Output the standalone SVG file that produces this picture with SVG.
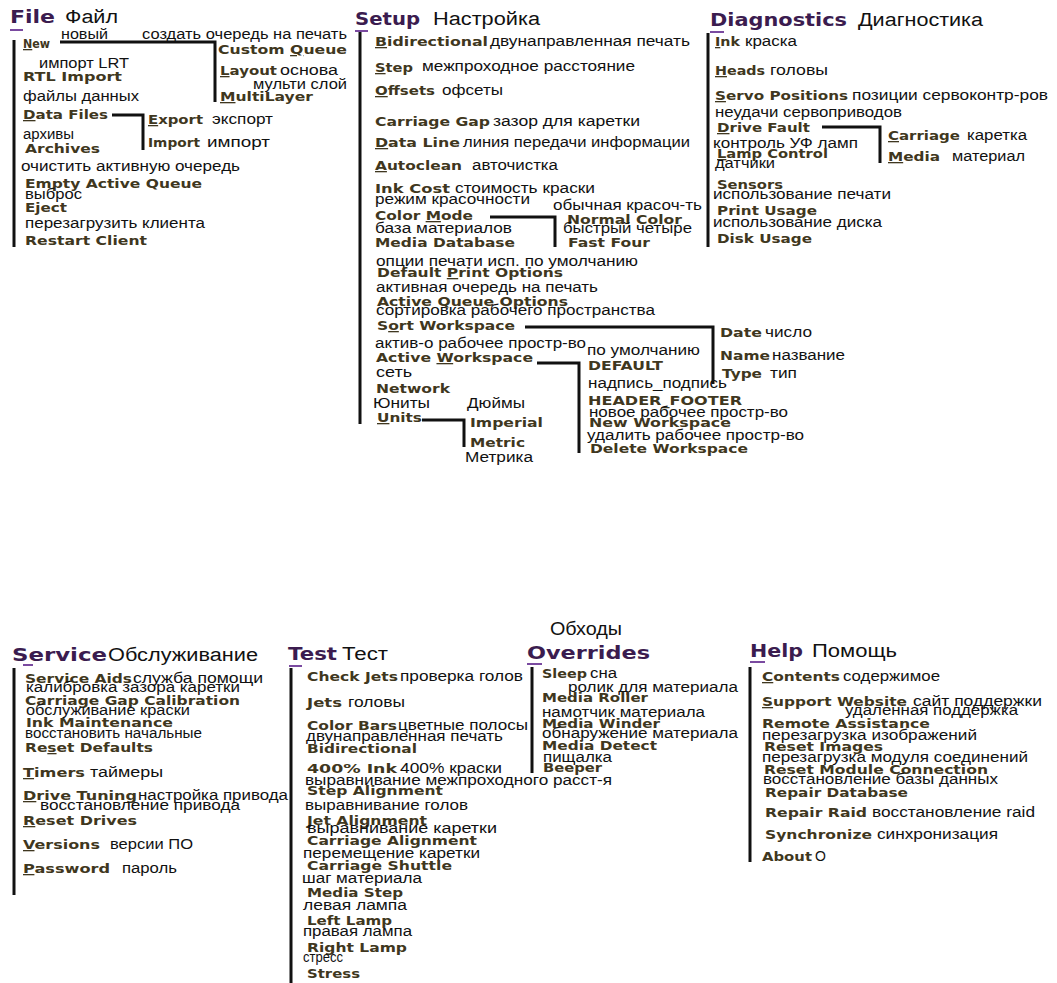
<svg xmlns="http://www.w3.org/2000/svg" width="1057" height="983" viewBox="0 0 1057 983">
<style>
.h{font-family:"DejaVu Sans",Verdana,sans-serif;font-weight:bold;font-size:18px;fill:#3b1c4f}
.hr{font-family:"Liberation Sans",Arial,sans-serif;font-size:18px;fill:#111}
.e{font-family:"DejaVu Sans",Verdana,sans-serif;font-weight:bold;font-size:13px;fill:#3f3720}
.r{font-family:"Liberation Sans",Arial,sans-serif;font-size:14px;fill:#111}
.u{text-decoration:underline}
.bar{stroke:#111;stroke-width:3;fill:none}
.ul{stroke:#7a4aa0;stroke-width:2}
</style>
<rect width="1057" height="983" fill="#fff"/>
<g id="connectors">
<line class="bar" x1="14" y1="40" x2="14" y2="247"/>
<polyline class="bar" points="60,42 215,42 215,102"/>
<polyline class="bar" points="112,115 143,115 143,150"/>
<line class="bar" x1="360" y1="30" x2="360" y2="424"/>
<polyline class="bar" points="490,217 555,217 555,247"/>
<polyline class="bar" points="525,327 713,327 713,384"/>
<polyline class="bar" points="537,363 579,363 579,453"/>
<polyline class="bar" points="422,420 464,420 464,447"/>
<line class="bar" x1="708" y1="33" x2="708" y2="247"/>
<polyline class="bar" points="822,127 880,127 880,163"/>
<line class="bar" x1="14" y1="668" x2="14" y2="895"/>
<line class="bar" x1="291" y1="668" x2="291" y2="983"/>
<line class="bar" x1="532" y1="667" x2="532" y2="773"/>
<line class="bar" x1="750" y1="667" x2="750" y2="862"/>
</g>
<g id="hdr-file"><text class="h" x="10" y="23" textLength="45" lengthAdjust="spacingAndGlyphs">File</text><text class="hr" x="65" y="23" textLength="53" lengthAdjust="spacingAndGlyphs">Файл</text><line class="ul" x1="10" y1="30" x2="23" y2="30"/></g>
<g id="file-new"><text class="e" x="23" y="48" textLength="27" lengthAdjust="spacingAndGlyphs"><tspan class="u">N</tspan>ew</text><text class="r" x="61" y="39" textLength="47" lengthAdjust="spacingAndGlyphs">новый</text></g>
<g id="file-custom-queue"><text class="r" x="142" y="39" textLength="205" lengthAdjust="spacingAndGlyphs">создать очередь на печать</text><text class="e" x="218" y="54" textLength="129" lengthAdjust="spacingAndGlyphs">Custom <tspan class="u">Q</tspan>ueue</text></g>
<g id="file-layout"><text class="e" x="220" y="75" textLength="57" lengthAdjust="spacingAndGlyphs"><tspan class="u">L</tspan>ayout</text><text class="r" x="280" y="75" textLength="58" lengthAdjust="spacingAndGlyphs">основа</text></g>
<g id="file-multilayer"><text class="r" x="253" y="89" textLength="94" lengthAdjust="spacingAndGlyphs">мульти слой</text><text class="e" x="220" y="101" textLength="93" lengthAdjust="spacingAndGlyphs"><tspan class="u">M</tspan>ultiLayer</text></g>
<g id="file-rtl"><text class="r" x="39" y="68" textLength="90" lengthAdjust="spacingAndGlyphs">импорт LRT</text><text class="e" x="23" y="81" textLength="99" lengthAdjust="spacingAndGlyphs">RTL Import</text></g>
<g id="file-data"><text class="r" x="23" y="101" textLength="116" lengthAdjust="spacingAndGlyphs">файлы данных</text><text class="e" x="23" y="119" textLength="85" lengthAdjust="spacingAndGlyphs"><tspan class="u">D</tspan>ata Files</text></g>
<g id="file-export"><text class="e" x="148" y="124" textLength="55" lengthAdjust="spacingAndGlyphs"><tspan class="u">E</tspan>xport</text><text class="r" x="212" y="124" textLength="61" lengthAdjust="spacingAndGlyphs">экспорт</text></g>
<g id="file-import"><text class="e" x="148" y="147" textLength="52" lengthAdjust="spacingAndGlyphs">Import</text><text class="r" x="207" y="147" textLength="63" lengthAdjust="spacingAndGlyphs">импорт</text></g>
<g id="file-archives"><text class="r" x="23" y="139" textLength="51" lengthAdjust="spacingAndGlyphs">архивы</text><text class="e" x="25" y="153" textLength="75" lengthAdjust="spacingAndGlyphs">Archives</text></g>
<g id="file-empty"><text class="r" x="21" y="171" textLength="219" lengthAdjust="spacingAndGlyphs">очистить активную очередь</text><text class="e" x="25" y="188" textLength="177" lengthAdjust="spacingAndGlyphs">Empty Active Queue</text></g>
<g id="file-eject"><text class="r" x="25" y="199" textLength="57" lengthAdjust="spacingAndGlyphs">выброс</text><text class="e" x="25" y="212" textLength="42" lengthAdjust="spacingAndGlyphs">Eject</text></g>
<g id="file-restart"><text class="r" x="25" y="228" textLength="180" lengthAdjust="spacingAndGlyphs">перезагрузить клиента</text><text class="e" x="25" y="245" textLength="122" lengthAdjust="spacingAndGlyphs">Restart Client</text></g>

<g id="hdr-setup"><text class="h" x="355" y="25" textLength="65" lengthAdjust="spacingAndGlyphs">Setup</text><text class="hr" x="433" y="25" textLength="107" lengthAdjust="spacingAndGlyphs">Настройка</text><line class="ul" x1="355" y1="31" x2="368" y2="31"/></g>
<g id="setup-bidir"><text class="e" x="375" y="46" textLength="113" lengthAdjust="spacingAndGlyphs"><tspan class="u">B</tspan>idirectional</text><text class="r" x="490" y="46" textLength="200" lengthAdjust="spacingAndGlyphs">двунаправленная печать</text></g>
<g id="setup-step"><text class="e" x="375" y="72" textLength="38" lengthAdjust="spacingAndGlyphs"><tspan class="u">S</tspan>tep</text><text class="r" x="422" y="71" textLength="213" lengthAdjust="spacingAndGlyphs">межпроходное расстояние</text></g>
<g id="setup-offsets"><text class="e" x="375" y="95" textLength="60" lengthAdjust="spacingAndGlyphs"><tspan class="u">O</tspan>ffsets</text><text class="r" x="442" y="95" textLength="61" lengthAdjust="spacingAndGlyphs">офсеты</text></g>
<g id="setup-cgap"><text class="e" x="375" y="126" textLength="115" lengthAdjust="spacingAndGlyphs">Carriage Gap</text><text class="r" x="493" y="126" textLength="147" lengthAdjust="spacingAndGlyphs">зазор для каретки</text></g>
<g id="setup-dataline"><text class="e" x="375" y="147" textLength="85" lengthAdjust="spacingAndGlyphs"><tspan class="u">D</tspan>ata Line</text><text class="r" x="463" y="147" textLength="227" lengthAdjust="spacingAndGlyphs">линия передачи информации</text></g>
<g id="setup-autoclean"><text class="e" x="375" y="170" textLength="87" lengthAdjust="spacingAndGlyphs"><tspan class="u">A</tspan>utoclean</text><text class="r" x="472" y="170" textLength="86" lengthAdjust="spacingAndGlyphs">авточистка</text></g>
<g id="setup-inkcost"><text class="e" x="375" y="193" textLength="75" lengthAdjust="spacingAndGlyphs">Ink Cost</text><text class="r" x="455" y="193" textLength="140" lengthAdjust="spacingAndGlyphs">стоимость краски</text></g>
<g id="setup-colormode"><text class="r" x="375" y="204" textLength="155" lengthAdjust="spacingAndGlyphs">режим красочности</text><text class="e" x="375" y="220" textLength="98" lengthAdjust="spacingAndGlyphs">Color <tspan class="u">M</tspan>ode</text></g>
<g id="setup-normal"><text class="r" x="553" y="210" textLength="149" lengthAdjust="spacingAndGlyphs">обычная красоч-ть</text><text class="e" x="567" y="224" textLength="115" lengthAdjust="spacingAndGlyphs">Normal Color</text></g>
<g id="setup-mediadb"><text class="r" x="375" y="233" textLength="137" lengthAdjust="spacingAndGlyphs">база материалов</text><text class="e" x="375" y="247" textLength="140" lengthAdjust="spacingAndGlyphs">Media Database</text></g>
<g id="setup-fastfour"><text class="r" x="563" y="233" textLength="129" lengthAdjust="spacingAndGlyphs">быстрый четыре</text><text class="e" x="568" y="247" textLength="82" lengthAdjust="spacingAndGlyphs">Fast Four</text></g>
<g id="setup-defprint"><text class="r" x="376" y="266" textLength="262" lengthAdjust="spacingAndGlyphs">опции печати исп. по умолчанию</text><text class="e" x="377" y="277" textLength="186" lengthAdjust="spacingAndGlyphs">Default <tspan class="u">P</tspan>rint Options</text></g>
<g id="setup-aqo"><text class="r" x="376" y="292" textLength="222" lengthAdjust="spacingAndGlyphs">активная очередь на печать</text><text class="e" x="377" y="306" textLength="191" lengthAdjust="spacingAndGlyphs">Active Queue Options</text></g>
<g id="setup-sort"><text class="r" x="376" y="315" textLength="279" lengthAdjust="spacingAndGlyphs">сортировка рабочего пространства</text><text class="e" x="377" y="330" textLength="138" lengthAdjust="spacingAndGlyphs">S<tspan class="u">o</tspan>rt Workspace</text></g>
<g id="setup-date"><text class="e" x="720" y="337" textLength="42" lengthAdjust="spacingAndGlyphs">Date</text><text class="r" x="765" y="337" textLength="47" lengthAdjust="spacingAndGlyphs">число</text></g>
<g id="setup-name"><text class="e" x="720" y="360" textLength="50" lengthAdjust="spacingAndGlyphs">Name</text><text class="r" x="772" y="360" textLength="73" lengthAdjust="spacingAndGlyphs">название</text></g>
<g id="setup-type"><text class="e" x="722" y="378" textLength="40" lengthAdjust="spacingAndGlyphs">Type</text><text class="r" x="770" y="378" textLength="27" lengthAdjust="spacingAndGlyphs">тип</text></g>
<g id="setup-activews"><text class="r" x="375" y="348" textLength="211" lengthAdjust="spacingAndGlyphs">актив-о рабочее простр-во</text><text class="e" x="376" y="362" textLength="157" lengthAdjust="spacingAndGlyphs">Active <tspan class="u">W</tspan>orkspace</text></g>
<g id="setup-default"><text class="r" x="587" y="355" textLength="113" lengthAdjust="spacingAndGlyphs">по умолчанию</text><text class="e" x="588" y="370" textLength="75" lengthAdjust="spacingAndGlyphs">DEFAULT</text></g>
<g id="setup-network"><text class="r" x="376" y="377" textLength="36" lengthAdjust="spacingAndGlyphs">сеть</text><text class="e" x="376" y="393" textLength="74" lengthAdjust="spacingAndGlyphs">Network</text></g>
<g id="setup-header"><text class="r" x="588" y="388" textLength="139" lengthAdjust="spacingAndGlyphs">надпись_подпись</text><text class="e" x="588" y="405" textLength="154" lengthAdjust="spacingAndGlyphs">HEADER_FOOTER</text></g>
<g id="setup-units"><text class="r" x="373" y="408" textLength="57" lengthAdjust="spacingAndGlyphs">Юниты</text><text class="e" x="377" y="422" textLength="45" lengthAdjust="spacingAndGlyphs"><tspan class="u">U</tspan>nits</text></g>
<g id="setup-imperial"><text class="r" x="467" y="408" textLength="58" lengthAdjust="spacingAndGlyphs">Дюймы</text><text class="e" x="470" y="427" textLength="73" lengthAdjust="spacingAndGlyphs">Imperial</text></g>
<g id="setup-metric"><text class="e" x="470" y="447" textLength="55" lengthAdjust="spacingAndGlyphs">Metric</text><text class="r" x="465" y="462" textLength="68" lengthAdjust="spacingAndGlyphs">Метрика</text></g>
<g id="setup-newws"><text class="r" x="589" y="417" textLength="199" lengthAdjust="spacingAndGlyphs">новое рабочее простр-во</text><text class="e" x="589" y="427" textLength="142" lengthAdjust="spacingAndGlyphs">New Workspace</text></g>
<g id="setup-delws"><text class="r" x="587" y="440" textLength="217" lengthAdjust="spacingAndGlyphs">удалить рабочее простр-во</text><text class="e" x="590" y="453" textLength="158" lengthAdjust="spacingAndGlyphs">Delete Workspace</text></g>

<g id="hdr-diag"><text class="h" x="710" y="26" textLength="137" lengthAdjust="spacingAndGlyphs">Diagnostics</text><text class="hr" x="858" y="26" textLength="125" lengthAdjust="spacingAndGlyphs">Диагностика</text><line class="ul" x1="710" y1="32" x2="724" y2="32"/></g>
<g id="diag-ink"><text class="e" x="715" y="46" textLength="25" lengthAdjust="spacingAndGlyphs"><tspan class="u">I</tspan>nk</text><text class="r" x="745" y="46" textLength="52" lengthAdjust="spacingAndGlyphs">краска</text></g>
<g id="diag-heads"><text class="e" x="715" y="75" textLength="50" lengthAdjust="spacingAndGlyphs"><tspan class="u">H</tspan>eads</text><text class="r" x="770" y="75" textLength="58" lengthAdjust="spacingAndGlyphs">головы</text></g>
<g id="diag-servo"><text class="e" x="715" y="100" textLength="133" lengthAdjust="spacingAndGlyphs"><tspan class="u">S</tspan>ervo Positions</text><text class="r" x="852" y="100" textLength="196" lengthAdjust="spacingAndGlyphs">позиции сервоконтр-ров</text></g>
<g id="diag-drive"><text class="r" x="715" y="117" textLength="187" lengthAdjust="spacingAndGlyphs">неудачи сервоприводов</text><text class="e" x="717" y="132" textLength="93" lengthAdjust="spacingAndGlyphs"><tspan class="u">D</tspan>rive Fault</text></g>
<g id="diag-carriage"><text class="e" x="888" y="140" textLength="72" lengthAdjust="spacingAndGlyphs"><tspan class="u">C</tspan>arriage</text><text class="r" x="967" y="140" textLength="60" lengthAdjust="spacingAndGlyphs">каретка</text></g>
<g id="diag-media"><text class="e" x="888" y="161" textLength="52" lengthAdjust="spacingAndGlyphs"><tspan class="u">M</tspan>edia</text><text class="r" x="952" y="161" textLength="73" lengthAdjust="spacingAndGlyphs">материал</text></g>
<g id="diag-lamp"><text class="r" x="713" y="148" textLength="145" lengthAdjust="spacingAndGlyphs">контроль УФ ламп</text><text class="e" x="717" y="158" textLength="111" lengthAdjust="spacingAndGlyphs"><tspan class="u">L</tspan>amp Control</text></g>
<g id="diag-sensors"><text class="r" x="715" y="168" textLength="60" lengthAdjust="spacingAndGlyphs">датчики</text><text class="e" x="717" y="189" textLength="66" lengthAdjust="spacingAndGlyphs">Sensors</text></g>
<g id="diag-print"><text class="r" x="713" y="199" textLength="178" lengthAdjust="spacingAndGlyphs">использование печати</text><text class="e" x="717" y="215" textLength="100" lengthAdjust="spacingAndGlyphs">Print Usage</text></g>
<g id="diag-disk"><text class="r" x="713" y="227" textLength="169" lengthAdjust="spacingAndGlyphs">использование диска</text><text class="e" x="717" y="243" textLength="95" lengthAdjust="spacingAndGlyphs">Disk Usage</text></g>

<g id="hdr-service"><text class="h" x="12" y="661" textLength="95" lengthAdjust="spacingAndGlyphs">Service</text><text class="hr" x="108" y="661" textLength="150" lengthAdjust="spacingAndGlyphs">Обслуживание</text><line class="ul" x1="23" y1="665" x2="33" y2="665"/></g>
<g id="svc-aids"><text class="e" x="25" y="683" textLength="107" lengthAdjust="spacingAndGlyphs">Service Aids</text><text class="r" x="133" y="683" textLength="130" lengthAdjust="spacingAndGlyphs">служба помощи</text></g>
<g id="svc-cgc"><text class="r" x="26" y="692" textLength="214" lengthAdjust="spacingAndGlyphs">калибровка зазора каретки</text><text class="e" x="25" y="705" textLength="215" lengthAdjust="spacingAndGlyphs">Carriage Gap Calibration</text></g>
<g id="svc-inkm"><text class="r" x="26" y="715" textLength="164" lengthAdjust="spacingAndGlyphs">обслуживание краски</text><text class="e" x="26" y="727" textLength="147" lengthAdjust="spacingAndGlyphs">Ink Maintenance</text></g>
<g id="svc-reset"><text class="r" x="25" y="738" textLength="177" lengthAdjust="spacingAndGlyphs">восстановить начальные</text><text class="e" x="25" y="752" textLength="128" lengthAdjust="spacingAndGlyphs">Re<tspan class="u">s</tspan>et Defaults</text></g>
<g id="svc-timers"><text class="e" x="23" y="777" textLength="62" lengthAdjust="spacingAndGlyphs"><tspan class="u">T</tspan>imers</text><text class="r" x="90" y="777" textLength="73" lengthAdjust="spacingAndGlyphs">таймеры</text></g>
<g id="svc-tuning"><text class="e" x="23" y="800" textLength="114" lengthAdjust="spacingAndGlyphs"><tspan class="u">D</tspan>rive Tuning</text><text class="r" x="138" y="800" textLength="150" lengthAdjust="spacingAndGlyphs">настройка привода</text></g>
<g id="svc-drives"><text class="r" x="40" y="810" textLength="200" lengthAdjust="spacingAndGlyphs">восстановление привода</text><text class="e" x="23" y="825" textLength="114" lengthAdjust="spacingAndGlyphs"><tspan class="u">R</tspan>eset Drives</text></g>
<g id="svc-versions"><text class="e" x="23" y="849" textLength="77" lengthAdjust="spacingAndGlyphs"><tspan class="u">V</tspan>ersions</text><text class="r" x="110" y="849" textLength="83" lengthAdjust="spacingAndGlyphs">версии ПО</text></g>
<g id="svc-password"><text class="e" x="23" y="873" textLength="87" lengthAdjust="spacingAndGlyphs"><tspan class="u">P</tspan>assword</text><text class="r" x="122" y="873" textLength="55" lengthAdjust="spacingAndGlyphs">пароль</text></g>

<g id="hdr-test"><text class="h" x="288" y="660" textLength="49" lengthAdjust="spacingAndGlyphs">Test</text><text class="hr" x="342" y="660" textLength="46" lengthAdjust="spacingAndGlyphs">Тест</text><line class="ul" x1="289" y1="666" x2="302" y2="666"/></g>
<g id="test-checkjets"><text class="e" x="307" y="681" textLength="91" lengthAdjust="spacingAndGlyphs">Check Jets</text><text class="r" x="400" y="681" textLength="123" lengthAdjust="spacingAndGlyphs">проверка голов</text></g>
<g id="test-jets"><text class="e" x="307" y="707" textLength="35" lengthAdjust="spacingAndGlyphs">Jets</text><text class="r" x="348" y="707" textLength="57" lengthAdjust="spacingAndGlyphs">головы</text></g>
<g id="test-colorbars"><text class="e" x="307" y="730" textLength="90" lengthAdjust="spacingAndGlyphs">Color Bars</text><text class="r" x="398" y="730" textLength="130" lengthAdjust="spacingAndGlyphs">цветные полосы</text></g>
<g id="test-bidir"><text class="r" x="306" y="741" textLength="197" lengthAdjust="spacingAndGlyphs">двунаправленная печать</text><text class="e" x="307" y="753" textLength="110" lengthAdjust="spacingAndGlyphs">Bidirectional</text></g>
<g id="test-400"><text class="e" x="307" y="773" textLength="90" lengthAdjust="spacingAndGlyphs">400% Ink</text><text class="r" x="400" y="773" textLength="102" lengthAdjust="spacingAndGlyphs">400% краски</text></g>
<g id="test-stepalign"><text class="r" x="305" y="785" textLength="307" lengthAdjust="spacingAndGlyphs">выравнивание межпроходного расст-я</text><text class="e" x="307" y="795" textLength="136" lengthAdjust="spacingAndGlyphs">Step Alignment</text></g>
<g id="test-jetalign"><text class="r" x="305" y="810" textLength="163" lengthAdjust="spacingAndGlyphs">выравнивание голов</text><text class="e" x="307" y="825" textLength="120" lengthAdjust="spacingAndGlyphs">Jet Alignment</text></g>
<g id="test-carralign"><text class="r" x="307" y="833" textLength="190" lengthAdjust="spacingAndGlyphs">выравнивание каретки</text><text class="e" x="307" y="845" textLength="170" lengthAdjust="spacingAndGlyphs">Carriage Alignment</text></g>
<g id="test-shuttle"><text class="r" x="303" y="858" textLength="177" lengthAdjust="spacingAndGlyphs">перемещение каретки</text><text class="e" x="307" y="870" textLength="145" lengthAdjust="spacingAndGlyphs">Carriage Shuttle</text></g>
<g id="test-mediastep"><text class="r" x="302" y="883" textLength="120" lengthAdjust="spacingAndGlyphs">шаг материала</text><text class="e" x="307" y="897" textLength="96" lengthAdjust="spacingAndGlyphs">Media Step</text></g>
<g id="test-leftlamp"><text class="r" x="303" y="910" textLength="104" lengthAdjust="spacingAndGlyphs">левая лампа</text><text class="e" x="307" y="925" textLength="85" lengthAdjust="spacingAndGlyphs">Left Lamp</text></g>
<g id="test-rightlamp"><text class="r" x="303" y="936" textLength="109" lengthAdjust="spacingAndGlyphs">правая лампа</text><text class="e" x="307" y="952" textLength="100" lengthAdjust="spacingAndGlyphs">Right Lamp</text></g>
<g id="test-stress"><text class="r" x="303" y="962" textLength="40" lengthAdjust="spacingAndGlyphs">стресс</text><text class="e" x="307" y="978" textLength="53" lengthAdjust="spacingAndGlyphs">Stress</text></g>

<g id="hdr-overrides"><text class="hr" x="550" y="635" textLength="72" lengthAdjust="spacingAndGlyphs">Обходы</text><text class="h" x="527" y="659" textLength="123" lengthAdjust="spacingAndGlyphs">Overrides</text><line class="ul" x1="527" y1="664" x2="542" y2="664"/></g>
<g id="ovr-sleep"><text class="e" x="542" y="678" textLength="45" lengthAdjust="spacingAndGlyphs">Sleep</text><text class="r" x="590" y="678" textLength="27" lengthAdjust="spacingAndGlyphs">сна</text></g>
<g id="ovr-roller"><text class="r" x="568" y="692" textLength="170" lengthAdjust="spacingAndGlyphs">ролик для материала</text><text class="e" x="542" y="702" textLength="106" lengthAdjust="spacingAndGlyphs">Media Roller</text></g>
<g id="ovr-winder"><text class="r" x="542" y="717" textLength="163" lengthAdjust="spacingAndGlyphs">намотчик материала</text><text class="e" x="542" y="728" textLength="118" lengthAdjust="spacingAndGlyphs">Media Winder</text></g>
<g id="ovr-detect"><text class="r" x="542" y="738" textLength="196" lengthAdjust="spacingAndGlyphs">обнаружение материала</text><text class="e" x="542" y="750" textLength="115" lengthAdjust="spacingAndGlyphs">Media Detect</text></g>
<g id="ovr-beeper"><text class="r" x="543" y="762" textLength="69" lengthAdjust="spacingAndGlyphs">пищалка</text><text class="e" x="543" y="772" textLength="59" lengthAdjust="spacingAndGlyphs">Beeper</text></g>

<g id="hdr-help"><text class="h" x="750" y="657" textLength="53" lengthAdjust="spacingAndGlyphs">Help</text><text class="hr" x="812" y="657" textLength="85" lengthAdjust="spacingAndGlyphs">Помощь</text><line class="ul" x1="750" y1="662" x2="765" y2="662"/></g>
<g id="help-contents"><text class="e" x="762" y="681" textLength="78" lengthAdjust="spacingAndGlyphs"><tspan class="u">C</tspan>ontents</text><text class="r" x="843" y="681" textLength="97" lengthAdjust="spacingAndGlyphs">содержимое</text></g>
<g id="help-support"><text class="e" x="762" y="706" textLength="145" lengthAdjust="spacingAndGlyphs"><tspan class="u">S</tspan>upport Website</text><text class="r" x="913" y="706" textLength="129" lengthAdjust="spacingAndGlyphs">сайт поддержки</text></g>
<g id="help-remote"><text class="r" x="845" y="715" textLength="173" lengthAdjust="spacingAndGlyphs">удаленная поддержка</text><text class="e" x="762" y="728" textLength="168" lengthAdjust="spacingAndGlyphs">Remote Assistance</text></g>
<g id="help-images"><text class="r" x="762" y="740" textLength="215" lengthAdjust="spacingAndGlyphs">перезагрузка изображений</text><text class="e" x="764" y="751" textLength="119" lengthAdjust="spacingAndGlyphs">Reset Images</text></g>
<g id="help-module"><text class="r" x="762" y="762" textLength="266" lengthAdjust="spacingAndGlyphs">перезагрузка модуля соединений</text><text class="e" x="764" y="774" textLength="224" lengthAdjust="spacingAndGlyphs">Reset Module Connection</text></g>
<g id="help-db"><text class="r" x="763" y="784" textLength="235" lengthAdjust="spacingAndGlyphs">восстановление базы данных</text><text class="e" x="765" y="797" textLength="143" lengthAdjust="spacingAndGlyphs">Repair Database</text></g>
<g id="help-raid"><text class="e" x="765" y="817" textLength="102" lengthAdjust="spacingAndGlyphs">Repair Raid</text><text class="r" x="872" y="817" textLength="163" lengthAdjust="spacingAndGlyphs">восстановление raid</text></g>
<g id="help-sync"><text class="e" x="765" y="839" textLength="107" lengthAdjust="spacingAndGlyphs">Synchronize</text><text class="r" x="877" y="839" textLength="121" lengthAdjust="spacingAndGlyphs">синхронизация</text></g>
<g id="help-about"><text class="e" x="762" y="861" textLength="50" lengthAdjust="spacingAndGlyphs">About</text><text class="r" x="815" y="861">О</text></g>
</svg>
